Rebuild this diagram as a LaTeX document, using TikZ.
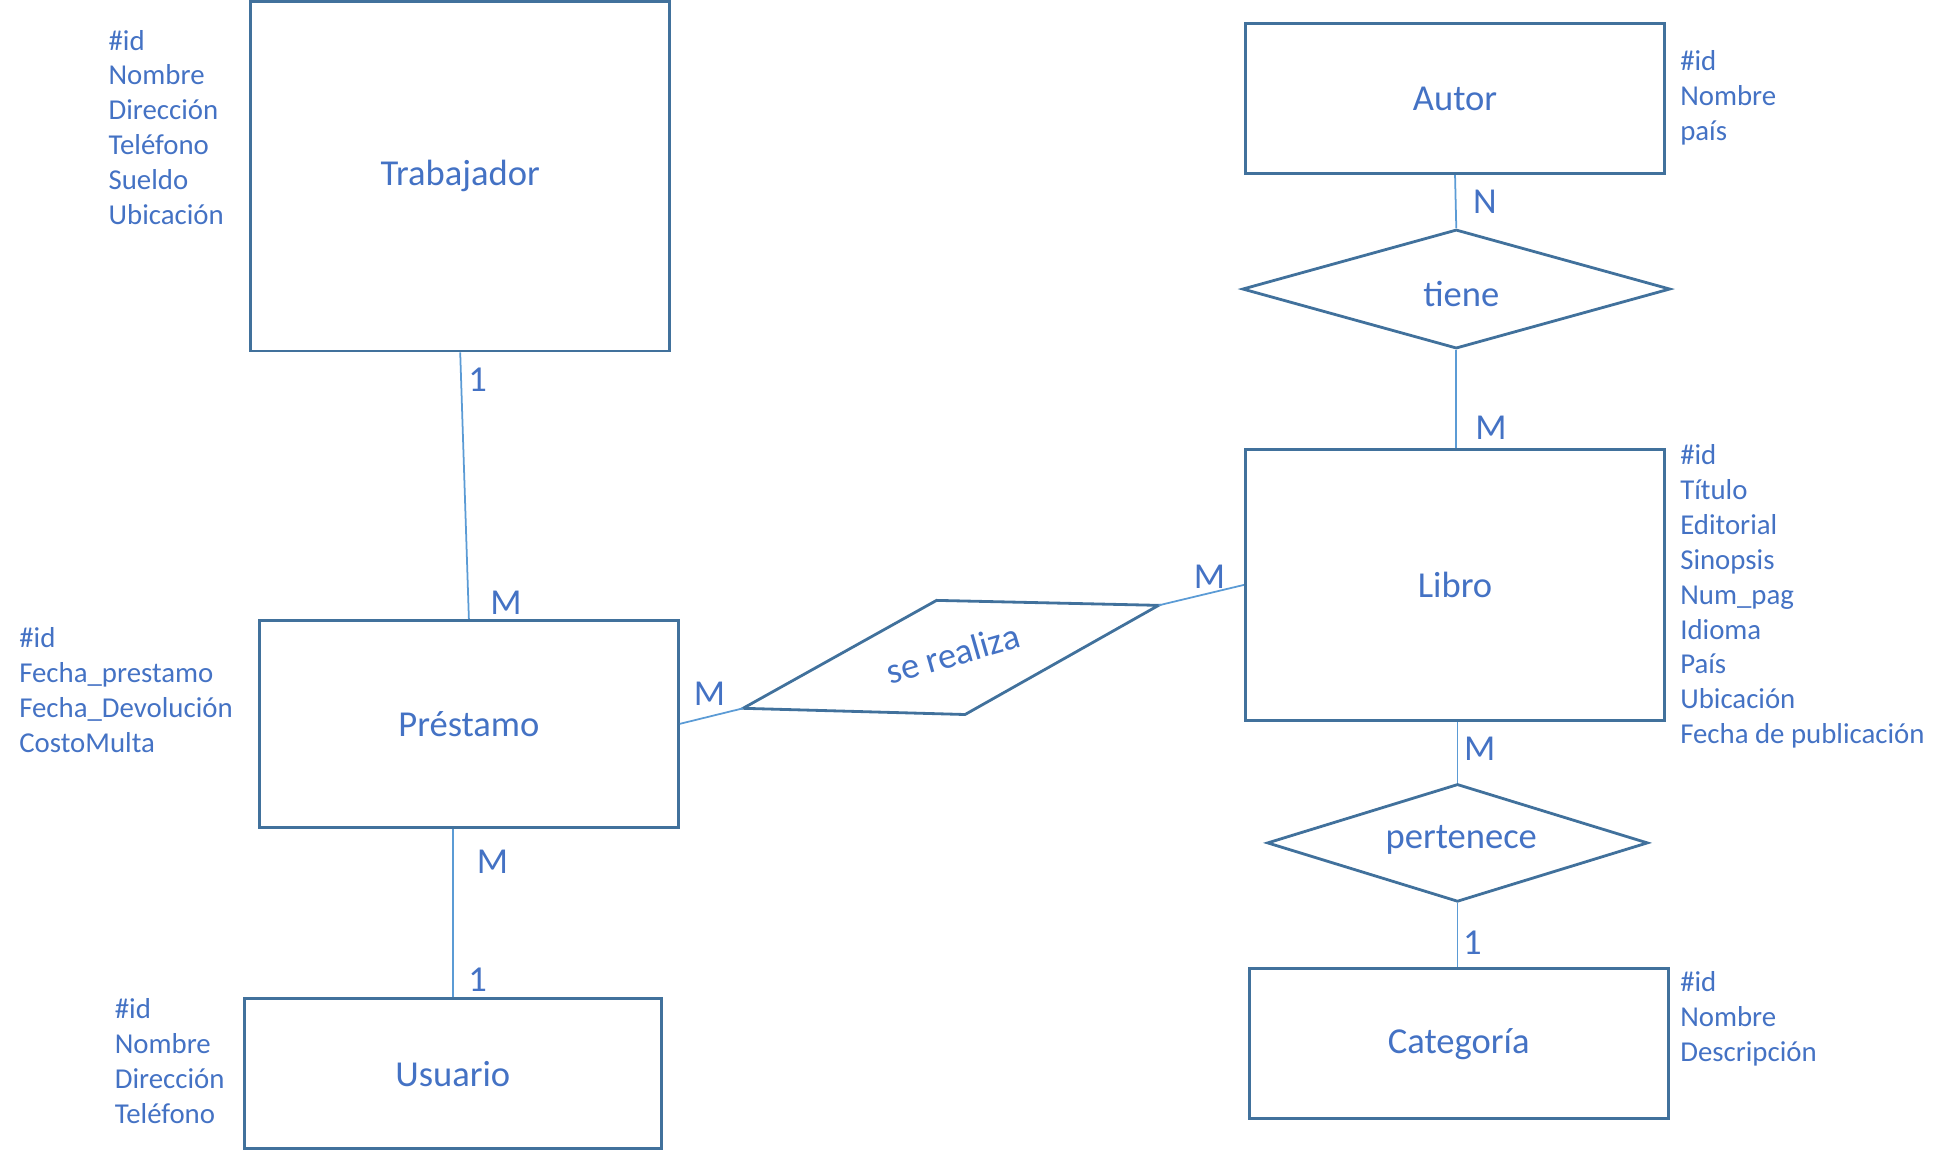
\documentclass[tikz,border=0pt]{standalone}
\usepackage{fontspec}
\setmainfont{Carlito}
\usetikzlibrary{shapes.geometric,calc}
\definecolor{erline}{HTML}{41719C}
\definecolor{ertext}{HTML}{4472C4}
\definecolor{erlink}{HTML}{5B9BD5}

\begin{document}
\begin{tikzpicture}[x=0.012404cm, y=-0.012404cm,
    entity/.style={draw=erline, line width=0.8pt, rectangle, minimum width=4.193cm, inner sep=0pt, text=ertext, font=\fontsize{10.4}{12}\selectfont},
    relation/.style={draw=erline, line width=0.8pt, diamond, inner sep=0pt, text=ertext, font=\fontsize{10.4}{12}\selectfont},
    attrs/.style={anchor=base west, align=left, inner sep=0pt, text=ertext, font=\fontsize{8.2}{9.93}\selectfont},
    card/.style={inner sep=0pt, text=ertext, font=\fontsize{10.4}{12}\selectfont},
    link/.style={draw=erlink, line width=0.5pt}
]
\useasboundingbox (0,0) rectangle (1568,927);

% Entities
\node[entity, minimum height=3.498cm] (trab) at (371,142) {Trabajador};
\node[entity, minimum height=2.071cm] (prest) at (378,583.5) {Préstamo};
\node[entity, minimum width=4.168cm, minimum height=1.501cm] (usu) at (365,865.5) {Usuario};
\node[entity, minimum height=1.501cm] (autor) at (1173,79.5) {Autor};
\node[entity, minimum height=2.716cm] (libro) at (1173,471.5) {Libro};
\node[entity, minimum height=1.501cm] (cat) at (1176,841.5) {Categoría};

% Relations
\node[relation, aspect=3.59, minimum width=4.279cm, minimum height=1.191cm] (tiene) at (1174,233) {};
\node[card] (tiene-txt) at (1178,237) {tiene};
\node[relation, aspect=3.23, minimum width=3.808cm, minimum height=1.178cm] (pert) at (1175,679.5) {};
\node[card] (pert-txt) at (1178,677) {pertenece};

\coordinate (sr-l) at (599,571);
\coordinate (sr-t) at (755,484);
\coordinate (sr-r) at (934,488);
\coordinate (sr-b) at (778,576);
\draw[erline, line width=0.8pt] (sr-l) -- (sr-t) -- (sr-r) -- (sr-b) -- cycle;
\node[card, rotate=16] (serealiza) at (768,527) {se realiza};

% Attributes (anchored at the baseline of the last line)
\node[attrs] (trab-attr) at (87,181) {\#id\\Nombre\\Dirección\\Teléfono\\Sueldo\\Ubicación};
\node[attrs] (prest-attr) at (15,606.6) {\#id\\Fecha\_prestamo\\Fecha\_Devolución\\CostoMulta};
\node[attrs] (usu-attr) at (92,905.6) {\#id\\Nombre\\Dirección\\Teléfono};
\node[attrs] (autor-attr) at (1354,113.4) {\#id\\Nombre\\país};
\node[attrs] (libro-attr) at (1354,599.6) {\#id\\Título\\Editorial\\Sinopsis\\Num\_pag\\Idioma\\País\\Ubicación\\Fecha de publicación};
\node[attrs] (cat-attr) at (1354,855.4) {\#id\\Nombre\\Descripción};

% Connectors
\draw[link] (trab.south) -- (prest.north);
\draw[link] (usu.north |- prest.south) -- (usu.north);
\draw[link] (prest.east) -- (sr-l);
\draw[link] (sr-r) -- (libro.west);
\draw[link] (autor.south) -- (tiene.north);
\draw[link] (tiene.south) -- (tiene.south |- libro.north);
\draw[link] (pert.north |- libro.south) -- (pert.north);
\draw[link] (pert.south) -- (pert.south |- cat.north);

% Cardinalities
\node[card] (c-trab) at (385,306) {1};
\node[card] (c-prest-t) at (408,486) {M};
\node[card] (c-prest-b) at (397,695) {M};
\node[card] (c-usu) at (385,790) {1};
\node[card] (c-prest-r) at (572,559) {M};
\node[card] (c-libro-l) at (975,465) {M};
\node[card] (c-autor) at (1197,163) {N};
\node[card] (c-libro-t) at (1202,345) {M};
\node[card] (c-libro-b) at (1193,604) {M};
\node[card] (c-cat) at (1187,760) {1};
\end{tikzpicture}
\end{document}
